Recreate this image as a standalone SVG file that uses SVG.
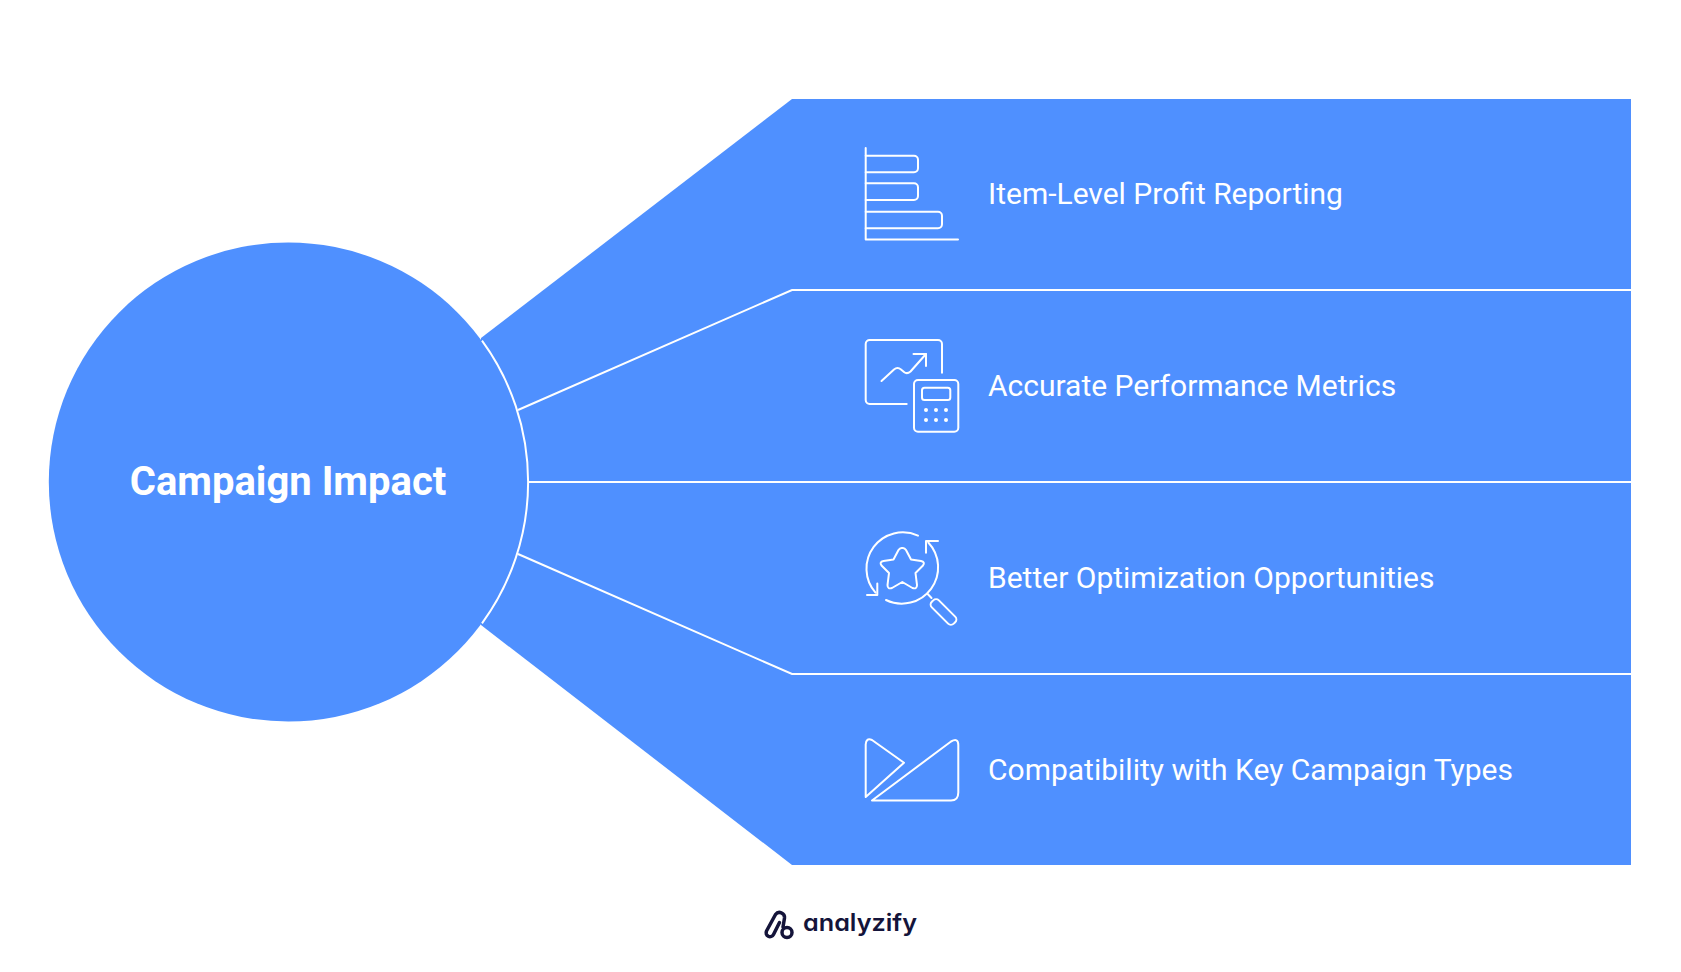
<svg xmlns="http://www.w3.org/2000/svg" width="1681" height="972" viewBox="0 0 1681 972">
<style>
.b{fill:#4f90ff}
.l{fill:none;stroke:#fff;stroke-width:2}
.i{fill:none;stroke:#fff;stroke-width:2;stroke-linecap:round;stroke-linejoin:round}
.t{font-family:Roboto,"Liberation Sans",sans-serif;font-size:30px;fill:#fff}
.d{fill:#fff}
</style>
<rect width="1681" height="972" fill="#fff"/>
<g id="fan"><path class="b" d="M792 99H1631V865H792L481 625V338Z"/></g>
<g id="connectors">
<path class="l" d="M518 410L792 290H1631"/>
<path class="l" d="M528 482H1631"/>
<path class="l" d="M518 554L792 674H1631"/>
</g>
<g id="hub">
<circle class="b" cx="288.300" cy="482" r="239.500"/>
<path class="l" d="M482 340.700A239.500 239.500 0 0 1 482 623.300"/>
<text x="288" y="495" text-anchor="middle" font-family="Roboto,'Liberation Sans',sans-serif" font-size="40" font-weight="700" fill="#fff">Campaign Impact</text>
</g>
<g id="item1">
<path class="i" d="M865.700 148V239.500H958"/>
<path class="i" d="M865.700 155.700H914a4 4 0 0 1 4 4V168.300a4 4 0 0 1 -4 4H865.700"/>
<path class="i" d="M865.700 183.300H914a4 4 0 0 1 4 4V196a4 4 0 0 1 -4 4H865.700"/>
<path class="i" d="M865.700 211.700H938a4 4 0 0 1 4 4V224.300a4 4 0 0 1 -4 4H865.700"/>
<text class="t" x="988" y="204">Item-Level Profit Reporting</text>
</g>
<g id="item2">
<path class="i" d="M906.700 404H869.700a4 4 0 0 1 -4 -4V344a4 4 0 0 1 4 -4H938a4 4 0 0 1 4 4V372.700"/>
<rect class="i" x="914" y="380" width="44.300" height="51.700" rx="4"/>
<rect class="i" x="922" y="387.700" width="28.300" height="12.300" rx="2.500"/>
<circle class="d" cx="926" cy="410" r="2"/><circle class="d" cx="936" cy="410" r="2"/><circle class="d" cx="946" cy="410" r="2"/>
<circle class="d" cx="926" cy="420" r="2"/><circle class="d" cx="936" cy="420" r="2"/><circle class="d" cx="946" cy="420" r="2"/>
<path class="i" d="M881.500 381L894 369.500Q897.500 366.500 901 369.500L904 372Q907 374.500 910.500 371.500L926 354"/>
<path class="i" d="M913.500 354H926V366"/>
<text class="t" x="988" y="396">Accurate Performance Metrics</text>
</g>
<g id="item3">
<path class="i" d="M918 535.700A36.300 36.300 0 0 0 875.500 592.600"/>
<path class="i" d="M886 600A36.300 36.300 0 0 0 928.300 542.500"/>
<path class="i" d="M867 595H877.300V583.500"/>
<path class="i" d="M926 552.700V541H938"/>
<path class="i" d="M902.300 548Q904.500 547.500 906 550L911 559.500L921 561Q925.500 562 923 565.500L915.500 573L917 585Q917 589.500 912.500 588L902.300 582L892 588Q887.500 589.500 887.500 585L889 573L881.500 565.500Q879 562 883.500 561L893.500 559.500L898.500 550Q900 547.500 902.300 548Z"/>
<path class="i" d="M927.700 594L931.500 598"/>
<rect class="i" x="-5" y="-15.500" width="10" height="31" rx="4" transform="translate(943.500 612) rotate(-45)"/>
<text class="t" x="988" y="588">Better Optimization Opportunities</text>
</g>
<g id="item4">
<path class="i" d="M865.700 797V744.500Q866 737.500 872 740L904 762.700Z"/>
<path class="i" d="M872 800.500L951 741.500Q958.300 737.500 958.300 745V792.500Q958.300 800.500 951 800.500Z"/>
<text class="t" x="988" y="780">Compatibility with Key Campaign Types</text>
</g>
<g id="logo">
<path d="M779.500 922.500L773.500 934.500A3.600 3.600 0 0 1 766.500 931L775.500 914.500A5 5 0 0 1 784.500 918L783 927" fill="none" stroke="#14143a" stroke-width="3.500" stroke-linecap="round" stroke-linejoin="round"/>
<circle cx="787" cy="932.500" r="5" fill="none" stroke="#14143a" stroke-width="3.500"/>
<text x="803" y="931" font-family="Inter,'Liberation Sans',sans-serif" font-size="24" font-weight="600" fill="#14143a" style="font-feature-settings:'cv11'" textLength="114" lengthAdjust="spacingAndGlyphs">analyzify</text>
</g>
</svg>
